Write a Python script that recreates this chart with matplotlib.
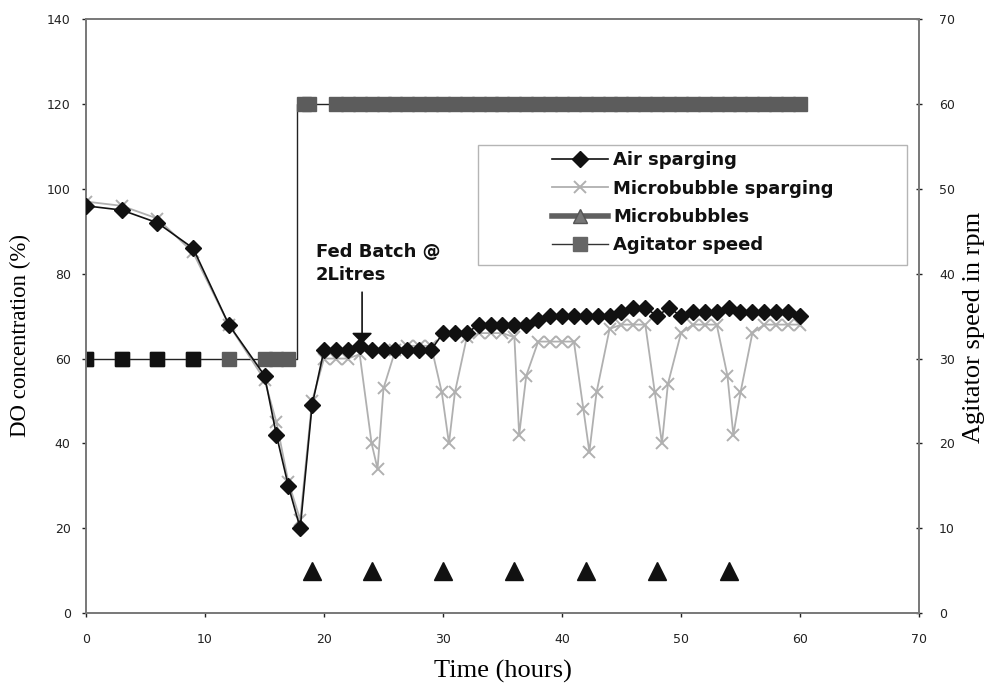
"""DO concentration and agitator speed during fed batch run"""

import matplotlib.pyplot as plt
from matplotlib.lines import Line2D
from matplotlib.patches import Rectangle

plt.rcParams['font.family'] = ['DejaVu Sans']

# air sparging, DO (%)
air_time = [0, 3, 6, 9, 12, 15, 16, 17, 18, 19,
            20, 21, 22, 23, 24, 25, 26, 27, 28, 29,
            30, 31, 32, 33, 34, 35, 36, 37, 38, 39,
            40, 41, 42, 43, 44, 45, 46, 47, 48, 49,
            50, 51, 52, 53, 54, 55, 56, 57, 58, 59, 60]
air_do = [96, 95, 92, 86, 68, 56, 42, 30, 20, 49,
          62, 62, 62, 63, 62, 62, 62, 62, 62, 62,
          66, 66, 66, 68, 68, 68, 68, 68, 69, 70,
          70, 70, 70, 70, 70, 71, 72, 72, 70, 72,
          70, 71, 71, 71, 72, 71, 71, 71, 71, 71, 70]

# microbubble sparging, DO (%)
mb_time = [0, 3, 6, 9, 12, 15, 16, 17, 18, 19,
           20, 21, 22, 23, 24, 24.5, 25, 26, 27, 28, 29,
           29.9, 30.5, 31, 32, 33, 34, 35,
           36, 36.4, 37, 38, 39, 40, 41,
           41.8, 42.3, 42.9, 44, 45, 46, 47,
           47.8, 48.4, 48.9, 50, 51, 52, 53,
           53.9, 54.4, 55, 56, 57, 58, 59, 60]
mb_do = [97, 96, 93, 85, 68, 55, 45, 31, 22, 50,
         60, 60, 60, 61, 40, 34, 53, 62, 63, 63, 63,
         52, 40, 52, 65, 66, 66, 66,
         65, 42, 56, 64, 64, 64, 64,
         48, 38, 52, 67, 68, 68, 68,
         52, 40, 54, 66, 68, 68, 68,
         56, 42, 52, 66, 68, 68, 68, 68]

# microbubble additions (rpm axis)
bubble_time = [19, 24, 30, 36, 42, 48, 54]
bubble_level = [5, 5, 5, 5, 5, 5, 5]

# agitator speed (rpm); the step at 17.7 h carries no marker
agit_time = [0, 3, 6, 9, 12, 15, 16, 17, 17.7,
             17.7, 18.3, 18.7, 21, 22, 23, 24, 25, 26, 27, 28, 29,
             30, 31, 32, 33, 34, 35, 36, 37, 38, 39,
             40, 41, 42, 43, 44, 45, 46, 47, 48, 49,
             50, 51, 52, 53, 54, 55, 56, 57, 58, 59, 60]
agit_rpm = [30, 30, 30, 30, 30, 30, 30, 30, 30,
            60, 60, 60, 60, 60, 60, 60, 60, 60, 60, 60, 60,
            60, 60, 60, 60, 60, 60, 60, 60, 60, 60,
            60, 60, 60, 60, 60, 60, 60, 60, 60, 60,
            60, 60, 60, 60, 60, 60, 60, 60, 60, 60, 60]
step_idx = [8, 9]

fig = plt.figure(figsize=(9.92, 6.85), dpi=100)
ax = fig.add_axes([0.0867, 0.105, 0.8397, 0.867])
ax2 = ax.twinx()

spine_col = '#7a7a7a'
grey_mb = '#b0b0b0'

marked = [i for i in range(len(agit_time)) if i not in step_idx]
ax2.plot(agit_time, agit_rpm, color='#222222', lw=1.0, marker='s', ms=10,
         mfc='#5c5c5c', mec='#5c5c5c', markevery=marked, zorder=2)
ax2.plot(agit_time[:4], agit_rpm[:4], ls='none', marker='s', ms=10,
         mfc='#111111', mec='#111111', zorder=3)
ax2.plot(bubble_time, bubble_level, ls='none', marker='^', ms=13,
         mfc='#111111', mec='#111111', zorder=3)

ax.plot(mb_time, mb_do, color=grey_mb, lw=1.3, marker='x', ms=9, mew=1.4,
        mec=grey_mb, zorder=3)
ax.plot(air_time, air_do, color='#111111', lw=1.2, marker='D', ms=8,
        mfc='#111111', mec='#111111', zorder=4)
ax.set_zorder(ax2.get_zorder() + 1)
ax.patch.set_visible(False)

ax.set_xlim(0, 70)
ax.set_ylim(0, 140)
ax2.set_ylim(0, 70)
ax.set_xticks(range(0, 71, 10))
ax.set_yticks(range(0, 141, 20))
ax2.set_yticks(range(0, 71, 10))

for a in (ax, ax2):
    for s in a.spines.values():
        s.set_color(spine_col)
        s.set_linewidth(1.3)
ax.tick_params(axis='y', labelsize=9, colors='#222222', length=3,
               width=1, direction='out', pad=8)
ax.tick_params(axis='x', labelsize=9, colors='#222222', length=3,
               width=1, direction='out', pad=11)
ax2.tick_params(axis='y', labelsize=9, colors='#222222', length=5,
                width=1, direction='inout', pad=12)

serif = ['Liberation Serif', 'DejaVu Serif']
ax.set_xlabel('Time (hours)', family=serif, fontsize=19, labelpad=10)
ax.set_ylabel('DO concentration (%)', family=serif, fontsize=16.5)
ax2.set_ylabel('Agitator speed in rpm', family=serif, fontsize=19)
ax.yaxis.set_label_coords(-0.066, 0.468)
ax2.yaxis.set_label_coords(1.053, 0.481)

# feed annotation
ax.text(19.3, 82.4, 'Fed Batch @\n2Litres', fontsize=13, fontweight='bold',
        ha='left', va='center', linespacing=1.35, color='#111111')
ax.annotate('', xy=(23.2, 62.9), xytext=(23.2, 76.3),
            arrowprops=dict(arrowstyle='-|>,head_length=0.45,head_width=0.45',
                            color='#111111', lw=1.2, mutation_scale=14))

# legend with its own frame
ax.add_patch(Rectangle((0.47, 0.586), 0.516, 0.202, transform=ax.transAxes,
                       fill=False, ec='#b5b5b5', lw=1.0, zorder=5))
handles = [
    Line2D([], [], color='#111111', lw=1.2, marker='D', ms=8,
           mfc='#111111', mec='#111111'),
    Line2D([], [], color=grey_mb, lw=1.3, marker='x', ms=9, mew=1.4),
    Line2D([], [], color='#606060', lw=4, marker='^', ms=10,
           mfc='#777777', mec='#555555'),
    Line2D([], [], color='#333333', lw=1.0, marker='s', ms=10,
           mfc='#666666', mec='#666666'),
]
labels = ['Air sparging', 'Microbubble sparging', 'Microbubbles',
          'Agitator speed']
leg = ax.legend(handles, labels, loc='upper left',
                bbox_to_anchor=(0.54, 0.805), frameon=False, fontsize=13,
                handlelength=3.1, handletextpad=0.3, labelspacing=0.57,
                borderpad=0.4)
for t in leg.get_texts():
    t.set_fontweight('bold')
    t.set_color('#111111')

fig.savefig('out.png', dpi=100)
